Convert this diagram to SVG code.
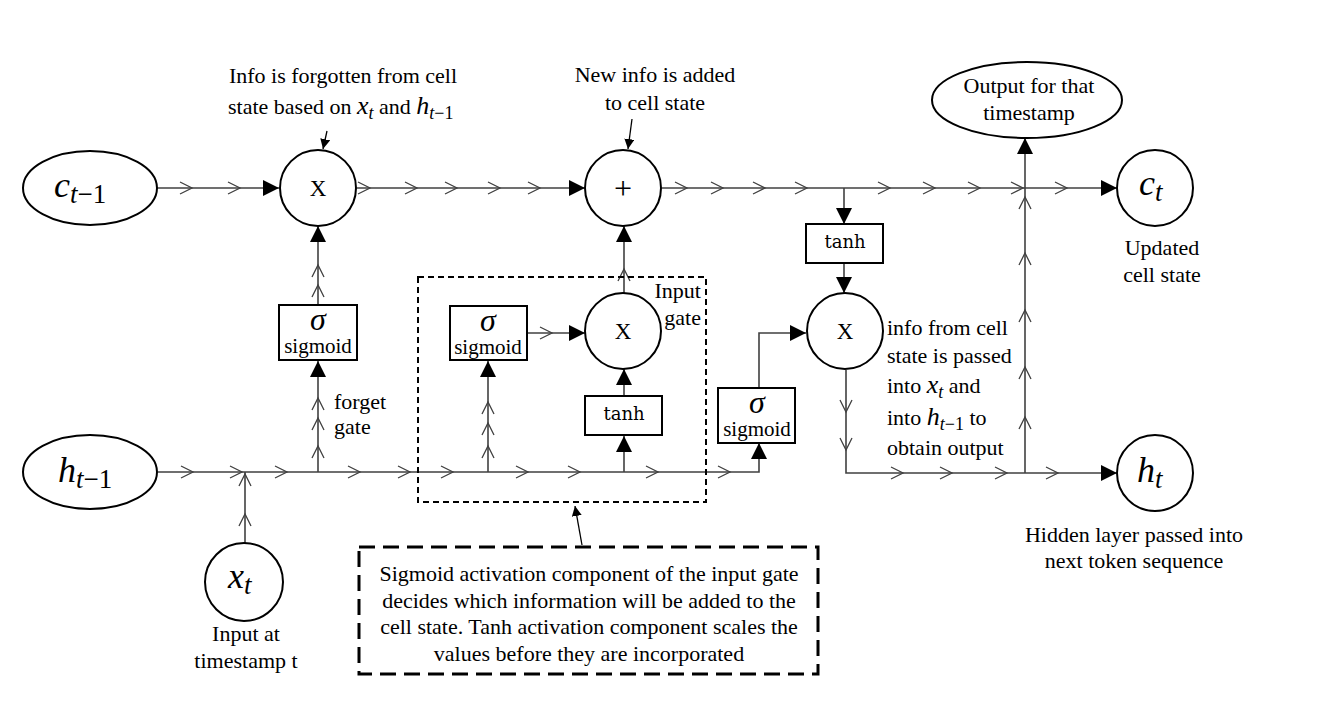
<svg xmlns="http://www.w3.org/2000/svg" xmlns:xlink="http://www.w3.org/1999/xlink" width="1335" height="709" viewBox="0 0 1335 709">
<style>
.bg{fill:#ffffff}
.node{fill:#ffffff;stroke:#000;stroke-width:2}
.conn{fill:none;stroke:#404040;stroke-width:1.6}
.ann{fill:none;stroke:#000;stroke-width:1.3}
.chev{fill:none;stroke:#404040;stroke-width:1.3}
.t{font-family:"Liberation Serif","Times New Roman",serif;font-size:22px;fill:#000}
.m{font-family:"Liberation Serif","Times New Roman",serif;font-style:italic;fill:#000}
.n{font-style:normal}
.op{font-family:"Liberation Serif","Times New Roman",serif;fill:#000;text-anchor:middle}
.sg{font-family:"Liberation Serif","Times New Roman",serif;font-size:21px;fill:#000;text-anchor:middle}
.tanh{font-family:"DejaVu Serif",serif;font-size:18px;fill:#000}
.gbox{fill:none;stroke:#000;stroke-width:2;stroke-dasharray:6 4}
.abox{fill:#fff;stroke:#000;stroke-width:3;stroke-dasharray:16 8}
</style>
<defs>
<marker id="ah" viewBox="0 0 16 16" refX="16" refY="8" markerWidth="16" markerHeight="16" markerUnits="userSpaceOnUse" orient="auto"><path d="M0,0 L16,8 L0,16 Z" fill="#000"/></marker>
<marker id="as" viewBox="0 0 10 10" refX="10" refY="5" markerWidth="10" markerHeight="10" markerUnits="userSpaceOnUse" orient="auto"><path d="M0,0 L10,5 L0,10 Z" fill="#000"/></marker>
<path id="chev" class="chev" d="M-12,-6 L0,0 L-12,6"/>
</defs>
<rect class="bg" x="0" y="0" width="1335" height="709"/>

<g id="connectors">
  <line class="conn" x1="157" y1="188" x2="279" y2="188" marker-end="url(#ah)"/>
  <line class="conn" x1="357" y1="188" x2="585" y2="188" marker-end="url(#ah)"/>
  <line class="conn" x1="662" y1="188" x2="1117" y2="188" marker-end="url(#ah)"/>
  <line class="conn" x1="844" y1="188" x2="844" y2="224" marker-end="url(#ah)"/>
  <line class="conn" x1="844" y1="263" x2="844" y2="293" marker-end="url(#ah)"/>
  <polyline class="conn" points="846,370 846,473 1117,473" marker-end="url(#ah)"/>
  <line class="conn" x1="1025" y1="473" x2="1025" y2="138" marker-end="url(#ah)"/>
  <polyline class="conn" points="158,472 759,472 759,443" marker-end="url(#ah)"/>
  <line class="conn" x1="245" y1="543" x2="245" y2="472"/>
  <line class="conn" x1="318" y1="472" x2="318" y2="361" marker-end="url(#ah)"/>
  <line class="conn" x1="318" y1="305" x2="318" y2="226" marker-end="url(#ah)"/>
  <line class="conn" x1="488" y1="472" x2="488" y2="361" marker-end="url(#ah)"/>
  <line class="conn" x1="527" y1="333" x2="585" y2="333" marker-end="url(#ah)"/>
  <line class="conn" x1="624" y1="472" x2="624" y2="436" marker-end="url(#ah)"/>
  <line class="conn" x1="624" y1="396" x2="624" y2="369" marker-end="url(#ah)"/>
  <line class="conn" x1="624" y1="293" x2="624" y2="226" marker-end="url(#ah)"/>
  <polyline class="conn" points="759,388 759,333 806,333" marker-end="url(#ah)"/>
  <line class="ann" x1="327" y1="131" x2="323" y2="149" marker-end="url(#as)"/>
  <line class="ann" x1="632" y1="119" x2="628" y2="149" marker-end="url(#as)"/>
  <line class="ann" x1="582" y1="545" x2="575" y2="506" marker-end="url(#as)"/>
  <use xlink:href="#chev" transform="translate(192,188)"/>
  <use xlink:href="#chev" transform="translate(240,188)"/>
  <use xlink:href="#chev" transform="translate(370,188)"/>
  <use xlink:href="#chev" transform="translate(417,188)"/>
  <use xlink:href="#chev" transform="translate(457,188)"/>
  <use xlink:href="#chev" transform="translate(500,188)"/>
  <use xlink:href="#chev" transform="translate(540,188)"/>
  <use xlink:href="#chev" transform="translate(687,188)"/>
  <use xlink:href="#chev" transform="translate(723,188)"/>
  <use xlink:href="#chev" transform="translate(765,188)"/>
  <use xlink:href="#chev" transform="translate(807,188)"/>
  <use xlink:href="#chev" transform="translate(890,188)"/>
  <use xlink:href="#chev" transform="translate(935,188)"/>
  <use xlink:href="#chev" transform="translate(980,188)"/>
  <use xlink:href="#chev" transform="translate(1023,188)"/>
  <use xlink:href="#chev" transform="translate(1067,188)"/>
  <use xlink:href="#chev" transform="translate(193,472)"/>
  <use xlink:href="#chev" transform="translate(242,472)"/>
  <use xlink:href="#chev" transform="translate(287,472)"/>
  <use xlink:href="#chev" transform="translate(360,472)"/>
  <use xlink:href="#chev" transform="translate(410,472)"/>
  <use xlink:href="#chev" transform="translate(453,472)"/>
  <use xlink:href="#chev" transform="translate(528,472)"/>
  <use xlink:href="#chev" transform="translate(580,472)"/>
  <use xlink:href="#chev" transform="translate(658,472)"/>
  <use xlink:href="#chev" transform="translate(730,472)"/>
  <use xlink:href="#chev" transform="translate(552,333)"/>
  <use xlink:href="#chev" transform="translate(903,473)"/>
  <use xlink:href="#chev" transform="translate(952,473)"/>
  <use xlink:href="#chev" transform="translate(1007,473)"/>
  <use xlink:href="#chev" transform="translate(1058,473)"/>
  <use xlink:href="#chev" transform="translate(245,474) rotate(-90)"/>
  <use xlink:href="#chev" transform="translate(245,514) rotate(-90)"/>
  <use xlink:href="#chev" transform="translate(318,398) rotate(-90)"/>
  <use xlink:href="#chev" transform="translate(318,418) rotate(-90)"/>
  <use xlink:href="#chev" transform="translate(318,446) rotate(-90)"/>
  <use xlink:href="#chev" transform="translate(318,265) rotate(-90)"/>
  <use xlink:href="#chev" transform="translate(318,285) rotate(-90)"/>
  <use xlink:href="#chev" transform="translate(488,402) rotate(-90)"/>
  <use xlink:href="#chev" transform="translate(488,423) rotate(-90)"/>
  <use xlink:href="#chev" transform="translate(488,446) rotate(-90)"/>
  <use xlink:href="#chev" transform="translate(624,269) rotate(-90)"/>
  <use xlink:href="#chev" transform="translate(1025,197) rotate(-90)"/>
  <use xlink:href="#chev" transform="translate(1025,253) rotate(-90)"/>
  <use xlink:href="#chev" transform="translate(1025,310) rotate(-90)"/>
  <use xlink:href="#chev" transform="translate(1025,367) rotate(-90)"/>
  <use xlink:href="#chev" transform="translate(1025,417) rotate(-90)"/>
  <use xlink:href="#chev" transform="translate(846,412) rotate(90)"/>
  <use xlink:href="#chev" transform="translate(846,450) rotate(90)"/>
</g>

<g id="input-gate-box"><rect class="gbox" x="418" y="277" width="288" height="225"/>
  <text class="t" x="701" y="298" text-anchor="end">Input</text>
  <text class="t" x="701" y="325" text-anchor="end">gate</text>
</g>

<g id="c_prev"><ellipse class="node" cx="90" cy="188" rx="67" ry="37"/>
  <text class="m" x="54" y="197" font-size="36">c<tspan font-size="27" dy="6">t</tspan><tspan class="n" font-size="27">−1</tspan></text>
</g>
<g id="forget_mult"><circle class="node" cx="318" cy="188" r="38"/>
  <text class="op" x="318" y="196" style="font-size:23px">X</text>
</g>
<g id="add"><circle class="node" cx="623" cy="188" r="38"/>
  <text class="op" x="623" y="199" style="font-size:32px">+</text>
</g>
<g id="output"><ellipse class="node" cx="1027" cy="100" rx="95" ry="38"/>
  <text class="t" x="1029" y="93" text-anchor="middle">Output for that</text>
  <text class="t" x="1029" y="120" text-anchor="middle">timestamp</text>
</g>
<g id="c_t"><circle class="node" cx="1155" cy="188" r="38"/>
  <text class="m" x="1139" y="195" font-size="36">c<tspan font-size="27" dy="6">t</tspan></text>
  <text class="t" x="1162" y="255" text-anchor="middle">Updated</text>
  <text class="t" x="1162" y="282" text-anchor="middle">cell state</text>
</g>
<g id="forget_sigmoid"><rect class="node" x="279" y="305" width="78" height="55"/>
  <text class="m" x="318" y="330" text-anchor="middle" font-size="32">σ</text>
  <text class="sg" x="318" y="353">sigmoid</text>
</g>
<g id="input_sigmoid"><rect class="node" x="450" y="306" width="77" height="54"/>
  <text class="m" x="488" y="331" text-anchor="middle" font-size="32">σ</text>
  <text class="sg" x="488" y="354">sigmoid</text>
</g>
<g id="input_mult"><circle class="node" cx="623" cy="331" r="38"/>
  <text class="op" x="623" y="339" style="font-size:23px">X</text>
</g>
<g id="input_tanh"><rect class="node" x="585" y="396" width="77" height="39"/>
  <text class="tanh" x="624" y="420" text-anchor="middle">tanh</text>
</g>
<g id="output_tanh"><rect class="node" x="806" y="224" width="77" height="39"/>
  <text class="tanh" x="845" y="248" text-anchor="middle">tanh</text>
</g>
<g id="output_mult"><circle class="node" cx="845" cy="331" r="38"/>
  <text class="op" x="845" y="339" style="font-size:23px">X</text>
</g>
<g id="output_sigmoid"><rect class="node" x="718" y="388" width="77" height="55"/>
  <text class="m" x="757" y="413" text-anchor="middle" font-size="32">σ</text>
  <text class="sg" x="757" y="436">sigmoid</text>
</g>
<g id="h_prev"><ellipse class="node" cx="90" cy="472" rx="67" ry="37"/>
  <text class="m" x="58" y="482" font-size="36">h<tspan font-size="27" dy="6">t</tspan><tspan class="n" font-size="27">−1</tspan></text>
</g>
<g id="h_t"><circle class="node" cx="1155" cy="473" r="38"/>
  <text class="m" x="1137" y="482" font-size="36">h<tspan font-size="27" dy="6">t</tspan></text>
  <text class="t" x="1134" y="542" text-anchor="middle">Hidden layer passed into</text>
  <text class="t" x="1134" y="568" text-anchor="middle">next token sequence</text>
</g>
<g id="x_t"><circle class="node" cx="244" cy="582" r="39"/>
  <text class="m" x="228" y="588" font-size="36">x<tspan font-size="27" dy="6">t</tspan></text>
  <text class="t" x="246" y="641" text-anchor="middle">Input at</text>
  <text class="t" x="246" y="668" text-anchor="middle">timestamp t</text>
</g>

<g id="note_forget">
  <text class="t" x="343" y="83" text-anchor="middle">Info is forgotten from cell</text>
  <text class="t" x="228" y="114">state based on <tspan class="m" font-size="26">x</tspan><tspan class="m" font-size="18" dy="5">t</tspan><tspan dy="-5"> and </tspan><tspan class="m" font-size="26">h</tspan><tspan class="m" font-size="18" dy="5">t</tspan><tspan font-size="18">−1</tspan></text>
</g>
<g id="note_add">
  <text class="t" x="655" y="82" text-anchor="middle">New info is added</text>
  <text class="t" x="655" y="110" text-anchor="middle">to cell state</text>
</g>
<g id="note_output">
  <text class="t" x="887" y="335">info from cell</text>
  <text class="t" x="887" y="363">state is passed</text>
  <text class="t" x="887" y="393">into <tspan class="m" font-size="26">x</tspan><tspan class="m" font-size="18" dy="5">t</tspan><tspan dy="-5"> and</tspan></text>
  <text class="t" x="887" y="425">into <tspan class="m" font-size="26">h</tspan><tspan class="m" font-size="18" dy="5">t</tspan><tspan font-size="18">−1</tspan><tspan dy="-5"> to</tspan></text>
  <text class="t" x="887" y="455">obtain output</text>
</g>
<g id="forget_label">
  <text class="t" x="334" y="409">forget</text>
  <text class="t" x="334" y="434">gate</text>
</g>
<g id="note_box"><rect class="abox" x="359" y="547" width="459" height="127"/>
  <text class="t" x="589" y="581" text-anchor="middle">Sigmoid activation component of the input gate</text>
  <text class="t" x="589" y="608" text-anchor="middle">decides which information will be added to the</text>
  <text class="t" x="589" y="634" text-anchor="middle">cell state. Tanh activation component scales the</text>
  <text class="t" x="589" y="661" text-anchor="middle">values before they are incorporated</text>
</g>
</svg>
